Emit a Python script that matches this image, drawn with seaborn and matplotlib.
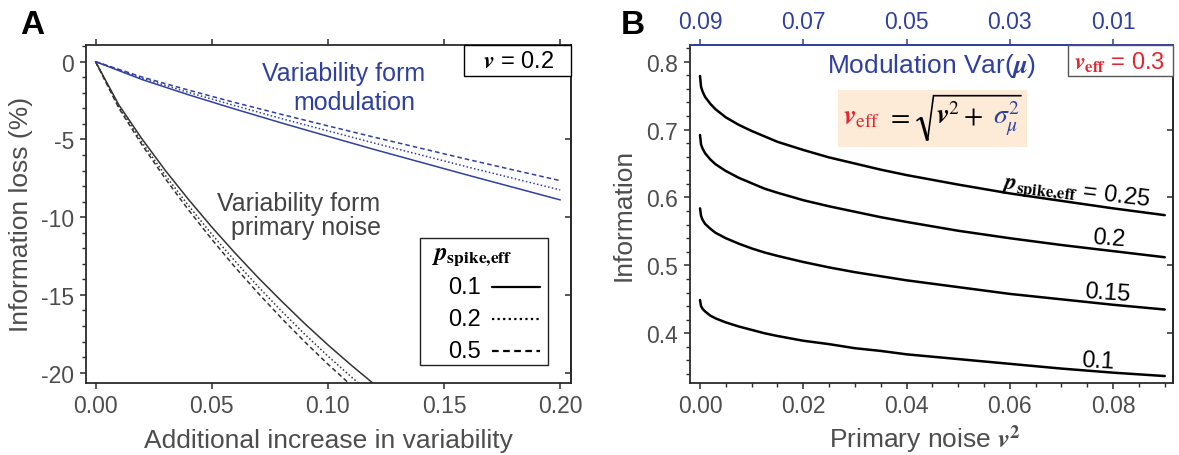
import matplotlib
matplotlib.use("Agg")
import matplotlib.pyplot as plt
from matplotlib.lines import Line2D
from matplotlib.patches import Rectangle
from matplotlib.ticker import MultipleLocator, FormatStrFormatter, FixedLocator
import pandas as pd
import seaborn as sns

# ---------------- data ----------------
# Panel A: information loss (%) vs additional variability
added_var_primary = [0.00, 0.01, 0.02, 0.03, 0.04, 0.05, 0.06, 0.07, 0.08, 0.09, 0.10, 0.11, 0.12, 0.13]
loss_primary_p01 = [0.0, -2.77, -4.97, -6.99, -8.86, -10.63, -12.30, -13.89, -15.39, -16.84,
                    -18.21, -19.51, -20.75, -21.95]
loss_primary_p02 = [0.0, -2.89, -5.19, -7.30, -9.25, -11.09, -12.82, -14.47, -16.03, -17.52,
                    -18.93, -20.26, -21.54, -22.80]
loss_primary_p05 = [0.0, -2.98, -5.35, -7.52, -9.53, -11.42, -13.21, -14.89, -16.49, -18.01,
                    -19.45, -20.81, -22.10, -23.30]

added_var_mod = [0.00, 0.02, 0.04, 0.06, 0.08, 0.10, 0.12, 0.14, 0.16, 0.18, 0.20]
loss_mod_p01 = [0.0, -1.15, -2.13, -3.05, -3.94, -4.80, -5.65, -6.47, -7.29, -8.09, -8.89]
loss_mod_p02 = [0.0, -1.07, -1.98, -2.83, -3.66, -4.45, -5.24, -6.00, -6.77, -7.51, -8.25]
loss_mod_p05 = [0.0, -0.99, -1.83, -2.63, -3.39, -4.13, -4.86, -5.57, -6.28, -6.97, -7.65]

pspike_levels = ["0.1", "0.2", "0.5"]

# Panel B: information vs primary noise v^2 (v_eff fixed at 0.3)
primary_noise = [0.0, 0.0002, 0.0005, 0.001, 0.002, 0.003, 0.005, 0.0075, 0.01, 0.0125, 0.015,
                 0.02, 0.025, 0.03, 0.035, 0.04, 0.05, 0.06, 0.07, 0.08, 0.09]
info_p025 = [0.779, 0.763, 0.756, 0.748, 0.738, 0.730, 0.718, 0.707, 0.698, 0.690, 0.682,
             0.670, 0.659, 0.650, 0.641, 0.633, 0.619, 0.606, 0.595, 0.584, 0.574]
info_p020 = [0.692, 0.678, 0.672, 0.665, 0.656, 0.649, 0.639, 0.629, 0.621, 0.613, 0.607,
             0.596, 0.587, 0.579, 0.571, 0.564, 0.551, 0.540, 0.530, 0.521, 0.512]
info_p015 = [0.584, 0.573, 0.567, 0.561, 0.554, 0.548, 0.540, 0.532, 0.525, 0.519, 0.514,
             0.505, 0.497, 0.490, 0.484, 0.478, 0.468, 0.458, 0.450, 0.442, 0.435]
info_p010 = [0.449, 0.440, 0.436, 0.432, 0.426, 0.422, 0.416, 0.410, 0.405, 0.400, 0.396,
             0.389, 0.384, 0.378, 0.374, 0.369, 0.362, 0.355, 0.348, 0.342, 0.337]
pspike_B = ["0.25", "0.2", "0.15", "0.1"]

xticks_A = [0.00, 0.05, 0.10, 0.15, 0.20]
yticks_A = [0, -5, -10, -15, -20]
xticks_B = [0.00, 0.02, 0.04, 0.06, 0.08]
yticks_B = [0.4, 0.5, 0.6, 0.7, 0.8]
top_ticks_B = [0.09, 0.07, 0.05, 0.03, 0.01]

# ---------------- style ----------------
sns.set_theme(style="ticks")
plt.rcParams["font.family"] = ["Liberation Sans", "DejaVu Sans"]
plt.rcParams["mathtext.fontset"] = "stix"
plt.rcParams["axes.unicode_minus"] = False

BLUE = "#3040a0"
RED = "#e3262d"
GREY_TXT = "#4d4d4d"
SPINE = "#2b2b2b"
LINE_A = "#333333"
PSPIKE = r"$\boldsymbol{p}_{\mathbf{spike{,}eff}}$"

W, H = 1179, 456


def fx(px):
    return px / W


def fy(py):
    return 1 - py / H


fig = plt.figure(figsize=(W / 100, H / 100), dpi=100)
axA = fig.add_axes([fx(86), fy(383.5), (570.5 - 86) / W, (383.5 - 46) / H])
axB = fig.add_axes([fx(690), fy(383.5), (1173 - 690) / W, (383.5 - 46) / H])


def style_axes(ax):
    for s in ax.spines.values():
        s.set_linewidth(1.3)
        s.set_color(SPINE)
    ax.tick_params(which="major", length=4.5, width=1.1, color=SPINE,
                   labelsize=16.5, labelcolor=GREY_TXT, pad=4)
    ax.tick_params(which="minor", length=3, width=1.0, color=SPINE)


dash_map = {"0.1": "", "0.2": (1, 1.5), "0.5": (3, 2)}

# ---------------- panel A ----------------
df_primary = pd.DataFrame({
    "x": added_var_primary * 3,
    "loss": loss_primary_p01 + loss_primary_p02 + loss_primary_p05,
    "p": sum([[p] * len(added_var_primary) for p in pspike_levels], []),
})
df_mod = pd.DataFrame({
    "x": added_var_mod * 3,
    "loss": loss_mod_p01 + loss_mod_p02 + loss_mod_p05,
    "p": sum([[p] * len(added_var_mod) for p in pspike_levels], []),
})
sns.lineplot(data=df_primary, x="x", y="loss", style="p", dashes=dash_map,
             color=LINE_A, linewidth=1.1, legend=False, errorbar=None, ax=axA)
sns.lineplot(data=df_mod, x="x", y="loss", style="p", dashes=dash_map,
             color=BLUE, linewidth=1.1, legend=False, errorbar=None, ax=axA)

axA.set_xlim(-0.0041, 0.2044)
axA.set_ylim(-20.63, 1.07)
axA.set_xlabel("")
axA.set_ylabel("")
style_axes(axA)
axA.xaxis.set_major_locator(FixedLocator(xticks_A))
axA.xaxis.set_major_formatter(FormatStrFormatter("%.2f"))
axA.yaxis.set_major_locator(FixedLocator(yticks_A))
axA.yaxis.set_major_formatter(FormatStrFormatter("%d"))
axA.yaxis.set_minor_locator(MultipleLocator(1))
axA.tick_params(axis="x", which="both", top=True, bottom=True, direction="out")
axA.tick_params(axis="y", which="both", left=True, right=False, direction="out")
secA = axA.secondary_yaxis("right")
secA.set_yticks(yticks_A)
secA.tick_params(direction="in", length=4.5, width=1.1, color=SPINE, labelright=False)
secA.spines["right"].set_linewidth(1.3)
secA.spines["right"].set_color(SPINE)

fig.text(fx(20), fy(34), "A", fontsize=24, fontweight="bold", color="black", va="baseline")
fig.text(fx(21), fy(214.5), "Information loss (%)", rotation=90, fontsize=19,
         color=GREY_TXT, ha="center", va="center")
fig.text(fx(328), fy(448), "Additional increase in variability", fontsize=19,
         color=GREY_TXT, ha="center", va="baseline")

fig.text(fx(343.5), fy(81.5), "Variability form", fontsize=18, color=BLUE,
         ha="center", va="baseline")
fig.text(fx(354.4), fy(109.6), "modulation", fontsize=18, color=BLUE,
         ha="center", va="baseline")
fig.text(fx(380.5), fy(211.5), "Variability form", fontsize=18, color="#444444",
         ha="right", va="baseline")
fig.text(fx(380.5), fy(235), "primary noise", fontsize=18, color="#444444",
         ha="right", va="baseline")

# v = 0.2 box
fig.patches.append(Rectangle((fx(464.4), fy(76.7)), (570.9 - 464.4) / W, (76.7 - 46) / H,
                             transform=fig.transFigure, facecolor="white",
                             edgecolor="black", linewidth=1.0, zorder=5))
fig.text(fx(518), fy(62), r"$\boldsymbol{v}$ = 0.2", fontsize=17, color="black",
         ha="center", va="center", zorder=6)

# p_spike,eff key
fig.patches.append(Rectangle((fx(420.3), fy(365.7)), (548 - 420.3) / W, (365.7 - 239.3) / H,
                             transform=fig.transFigure, facecolor="white",
                             edgecolor="#222222", linewidth=1.0, zorder=5))
fig.text(fx(431), fy(256), PSPIKE, fontsize=18, color="black", ha="left", va="center", zorder=6)
for lvl, yy in zip(pspike_levels, [288, 320, 351.7]):
    fig.text(fx(481), fy(yy), lvl, fontsize=17, color="black", ha="right",
             va="center", zorder=6)
    ln = Line2D([fx(492.4), fx(540.3)], [fy(yy), fy(yy)], transform=fig.transFigure,
                color="black", linewidth=1.6, zorder=6)
    if dash_map[lvl]:
        ln.set_dashes(dash_map[lvl])
    fig.lines.append(ln)

# ---------------- panel B ----------------
df_B = pd.DataFrame({
    "v2": primary_noise * 4,
    "info": info_p025 + info_p020 + info_p015 + info_p010,
    "p": sum([[p] * len(primary_noise) for p in pspike_B], []),
})
sns.lineplot(data=df_B, x="v2", y="info", hue="p",
             palette={p: "black" for p in pspike_B}, linewidth=1.8,
             legend=False, errorbar=None, ax=axB)
axB.set_xlim(-0.00194, 0.0916)
axB.set_ylim(0.3275, 0.8246)
axB.set_xlabel("")
axB.set_ylabel("")
style_axes(axB)
axB.xaxis.set_major_locator(FixedLocator(xticks_B))
axB.xaxis.set_major_formatter(FormatStrFormatter("%.2f"))
axB.xaxis.set_minor_locator(MultipleLocator(0.005))
axB.yaxis.set_major_locator(FixedLocator(yticks_B))
axB.yaxis.set_major_formatter(FormatStrFormatter("%.1f"))
axB.yaxis.set_minor_locator(MultipleLocator(0.02))
axB.tick_params(axis="x", which="both", top=False, bottom=True, direction="out")
axB.tick_params(axis="y", which="both", left=True, right=False, direction="out")
axB.spines["top"].set_color(BLUE)

secB_top = axB.secondary_xaxis("top", functions=(lambda v: 0.09 - v, lambda m: 0.09 - m))
secB_top.set_xticks(top_ticks_B)
secB_top.xaxis.set_major_formatter(FormatStrFormatter("%.2f"))
secB_top.tick_params(direction="out", length=4.5, width=1.1, color=BLUE,
                     labelcolor=BLUE, labelsize=16.5, pad=4)
secB_top.spines["top"].set_color(BLUE)
secB_top.spines["top"].set_linewidth(1.3)

secB_right = axB.secondary_yaxis("right")
secB_right.set_yticks(yticks_B)
secB_right.tick_params(direction="in", length=4.5, width=1.1, color=SPINE, labelright=False)
secB_right.spines["right"].set_linewidth(1.3)
secB_right.spines["right"].set_color(SPINE)

fig.text(fx(621), fy(34), "B", fontsize=24, fontweight="bold", color="black", va="baseline")
fig.text(fx(624), fy(215), "Information", rotation=90, fontsize=19,
         color=GREY_TXT, ha="center", va="center")
fig.text(fx(925), fy(448), r"Primary noise $\boldsymbol{v}^{\mathbf{2}}$", fontsize=19,
         color=GREY_TXT, ha="center", va="baseline")
fig.text(fx(932), fy(73.3), r"Modulation Var($\boldsymbol{\mu}$)", fontsize=19,
         color=BLUE, ha="center", va="baseline")

# v_eff = 0.3 box
fig.patches.append(Rectangle((fx(1068), fy(76.7)), (1173 - 1068) / W, (76.7 - 46) / H,
                             transform=fig.transFigure, facecolor="white",
                             edgecolor="#555555", linewidth=1.0, zorder=5))
fig.text(fx(1120), fy(62.5), r"$\boldsymbol{v}_{\mathbf{eff}}$ = 0.3", fontsize=17,
         color=RED, ha="center", va="center", zorder=6)

# curve labels
for txt, (cx, by, rot) in zip(
        [PSPIKE + " = 0.25", "0.2", "0.15", "0.1"],
        [(1075, 196.5, -7), (1108, 245, -4), (1107, 300, -4), (1097.5, 368, -3)]):
    fig.text(fx(cx), fy(by), txt, fontsize=17, color="black", ha="center",
             va="baseline", rotation=rot, rotation_mode="anchor")

# formula box: v_eff = sqrt(v^2 + sigma_mu^2), assembled piece by piece
fig.patches.append(Rectangle((fx(838), fy(148.3)), (1027 - 838) / W, (148.3 - 90.7) / H,
                             transform=fig.transFigure, facecolor="#fdebd8",
                             edgecolor="none", zorder=3))
FS = 20
BASE = 124


def piece(tex, x_px, color):
    fig.text(fx(x_px), fy(BASE), tex, fontsize=FS, color=color,
             ha="left", va="baseline", zorder=5)


piece(r"$\boldsymbol{v}_{\mathrm{eff}}$", 843, RED)
piece(r"$=$", 886, "black")
piece(r"$\boldsymbol{v}^2$", 936, "black")
piece(r"$+$", 963, "black")
piece(r"$\sigma_\mu^2$", 993, BLUE)
root_x = [917, 921, 927.5, 933.5, 1021]
root_y = [121.5, 118.5, 141.5, 96.7, 96.7]
fig.lines.append(Line2D([fx(v) for v in root_x], [fy(v) for v in root_y],
                        transform=fig.transFigure, color="black", linewidth=1.2,
                        solid_joinstyle="miter", zorder=5))
fig.lines.append(Line2D([fx(root_x[1]), fx(root_x[2])], [fy(root_y[1]), fy(root_y[2])],
                        transform=fig.transFigure, color="black", linewidth=2.2,
                        solid_capstyle="butt", zorder=5))

fig.savefig("out.png", dpi=100)
